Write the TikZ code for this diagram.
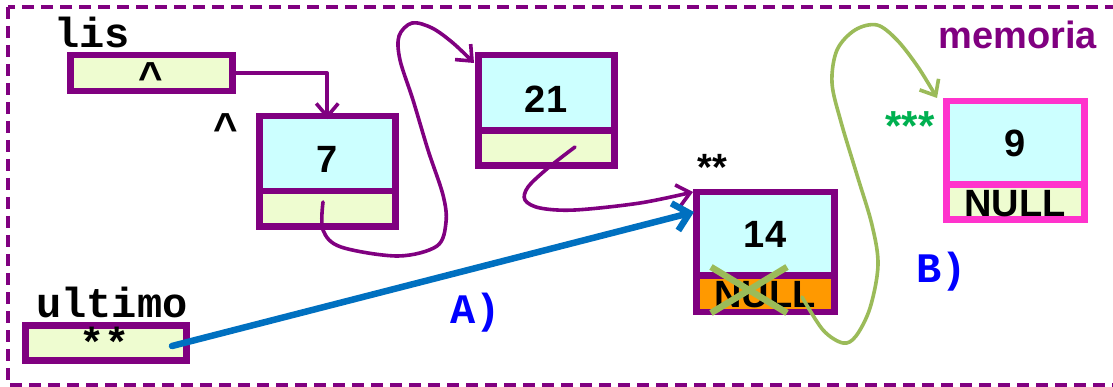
\documentclass[tikz,border=0pt]{standalone}
\usepackage{fontspec}
\setmainfont{Liberation Sans}
\setsansfont{Liberation Sans}
\setmonofont{Liberation Mono}
\usetikzlibrary{arrows.meta}

\definecolor{plum}{HTML}{800080}
\definecolor{cellcyan}{HTML}{CCFFFF}
\definecolor{cellyellow}{HTML}{EEFCD0}
\definecolor{cellorange}{HTML}{FF9900}
\definecolor{hotpink}{HTML}{FF33CC}
\definecolor{olive}{HTML}{9BBB59}
\definecolor{starred}{HTML}{00B050}
\definecolor{linkblue}{HTML}{0070C0}
\definecolor{labelblue}{HTML}{0000FF}

\newcommand\bigsans{\sffamily\bfseries\fontsize{38}{40}\selectfont}
\newcommand\bigmono{\ttfamily\bfseries\fontsize{42}{44}\selectfont}

\begin{document}
\begin{tikzpicture}[x=1pt,y=-1pt,
  cell/.style={line width=6.5pt, anchor=north west, inner sep=0pt, outer sep=0pt},
  valcell/.style={cell, draw=plum, fill=cellcyan},
  ptrcell/.style={cell, draw=plum, fill=cellyellow},
  txt/.style={anchor=base, inner sep=0pt, outer sep=0pt},
  link/.style={draw=plum, line width=3.6pt, line cap=round, line join=round,
    -{Straight Barb[length=13pt,width=22pt]}},
  newlink/.style={draw=olive, line width=3.6pt, line cap=round, line join=round,
    -{Straight Barb[length=13pt,width=22pt]}},
  bluelink/.style={draw=linkblue, line width=6.5pt, line cap=round,
    -{Straight Barb[length=15pt,width=28pt]}}]

\useasboundingbox (0,0) rectangle (1113,387);
\fill[white] (0,0) rectangle (1113,387);

% memory frame
\draw[plum, line width=3.8pt, dash pattern=on 12pt off 7pt] (8,7) rectangle (1125,385);
\node[anchor=base east, inner sep=0pt, text=plum, font=\bigsans] (mem) at (1097,49) {memoria};

% pointer variables
\node[anchor=base west, inner sep=0pt, font=\bigmono] (lisname) at (54,48) {lis};
\node[ptrcell, minimum width=162pt, minimum height=36pt] (lis) at (70.25,55.25) {};
\node[txt, font=\bigmono] (lisval) at (151,92) {\textasciicircum};

\node[anchor=base west, inner sep=0pt, font=\bigmono] (ultname) at (36,317) {ultimo};
\node[ptrcell, minimum width=161pt, minimum height=35pt] (ult) at (25.25,325.25) {};
\node[txt, font=\bigmono] (ultval) at (105,357) {**};

% node 7
\node[valcell, minimum width=136pt, minimum height=74.75pt] (n7) at (259.25,116.25) {};
\node[ptrcell, minimum width=136pt, minimum height=35.75pt] (n7p) at (n7.south west) {};
\node[txt, font=\bigsans] (v7) at (327,173) {7};
\node[txt, font=\bigmono] (c7) at (226,143) {\textasciicircum};

% node 21
\node[valcell, minimum width=136pt, minimum height=75.25pt] (n21) at (478.25,55.25) {};
\node[ptrcell, minimum width=136pt, minimum height=35.25pt] (n21p) at (n21.south west) {};
\node[txt, font=\bigsans] (v21) at (546,113) {21};

% node 14 (tail)
\node[valcell, minimum width=138pt, minimum height=83.25pt] (n14) at (696.25,192.25) {};
\node[cell, draw=plum, fill=cellorange, minimum width=138pt, minimum height=36.25pt] (n14p) at (n14.south west) {};
\node[txt, font=\bigsans] (v14) at (765,248) {14};
\node[txt, font=\bigsans] (null14) at (765,307) {NULL};
\node[txt, font=\bigsans] (s14) at (712,181) {**};

% node 9 (new)
\node[cell, draw=hotpink, fill=cellcyan, minimum width=138pt, minimum height=83.25pt] (n9) at (946.25,101.25) {};
\node[cell, draw=hotpink, fill=cellyellow, minimum width=138pt, minimum height=35.25pt] (n9p) at (n9.south west) {};
\node[txt, font=\bigsans] (v9) at (1015,157) {9};
\node[txt, font=\bigsans] (null9) at (1015,217) {NULL};
\node[txt, font=\sffamily\bfseries\fontsize{42}{44}\selectfont, text=starred] (s9) at (910,141) {***};

% crossed-out NULL
\draw[olive, line width=6.5pt] (711,267) -- (787,313) (711,313) -- (787,267);

% step labels
\node[anchor=base west, inner sep=0pt, font=\bigmono, text=labelblue] (stepA) at (450,323) {A)};
\node[anchor=base west, inner sep=0pt, font=\bigmono, text=labelblue] (stepB) at (916,283) {B)};

% links
\draw[link] (lis.east) -| ([yshift=-3pt]n7.north);

\coordinate (p7) at (323,202);
\draw[link] plot[smooth, tension=0.55] coordinates {(p7) (323,230) (341,247) (398,256)
  (437,246) (446,222) (443,195) (428,150) (413,100) (400,60) (399,36) (412,23)
  (432,28) (453,43) (474,63)};

\coordinate (p21) at (575,147);
\draw[link] plot[smooth, tension=0.55] coordinates {(p21) (548,168) (528,187)
  (525,200) (540,208) (575,210) (640,203) (693,192)};

\coordinate (pu) at (172,346);
\coordinate (hit14) at (694,212);
\draw[bluelink] (pu) -- (hit14);

\coordinate (p14) at (802,297);
\draw[newlink] plot[smooth, tension=0.55] coordinates {(p14) (823,330) (843,343)
  (856,336) (870,308) (878,265) (872,225) (857,175) (841,122) (832,83) (837,50)
  (855,30) (877,25) (897,40) (918,67) (937,98)};

\end{tikzpicture}
\end{document}
